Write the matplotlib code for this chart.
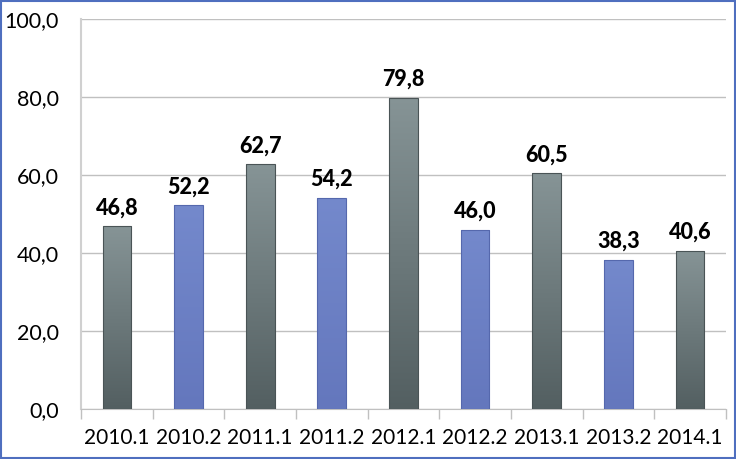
import numpy as np
import matplotlib
matplotlib.use("Agg")
import matplotlib.pyplot as plt
from matplotlib.patches import Rectangle

periods = ["2010.1", "2010.2", "2011.1", "2011.2", "2012.1",
           "2012.2", "2013.1", "2013.2", "2014.1"]
values = [46.8, 52.2, 62.7, 54.2, 79.8, 46.0, 60.5, 38.3, 40.6]
kinds = ["gray", "blue", "gray", "blue", "gray", "blue", "gray", "blue", "gray"]

palette = {
    "gray": ("#869496", "#535f61", "#4a5456"),
    "blue": ("#7489cc", "#6477bd", "#5568ad"),
}

plt.rcParams["font.family"] = ["Lato", "DejaVu Sans"]

fig = plt.figure(figsize=(7.36, 4.59), dpi=100)
ax = fig.add_axes([81 / 736, 50 / 459, 645 / 736, 390 / 459])

x = np.arange(len(periods))
width = 0.4
bars = ax.bar(x, values, width=width, color="none", edgecolor="none", zorder=3)

grad = np.linspace(0, 1, 256).reshape(-1, 1)
for b, k in zip(bars, kinds):
    top, bottom, edge = palette[k]
    cmap = matplotlib.colors.LinearSegmentedColormap.from_list(k, [bottom, top])
    x0, y0 = b.get_x(), b.get_y()
    w, h = b.get_width(), b.get_height()
    im = ax.imshow(grad, extent=[x0, x0 + w, y0, y0 + h], origin="lower",
                   cmap=cmap, aspect="auto", zorder=3)
    rect = Rectangle((x0, y0), w, h, facecolor="none", edgecolor=edge,
                     linewidth=0.8, zorder=4)
    ax.add_patch(rect)
    im.set_clip_path(rect)

for xi, v in zip(x, values):
    ax.text(xi, v + 2.0, f"{v:.1f}".replace(".", ","), ha="center", va="bottom",
            fontsize=15.5, fontweight="black", color="black", zorder=5)

ax.set_xlim(-0.5, len(periods) - 0.5)
ax.set_ylim(0, 100)
ax.set_yticks(np.arange(0, 101, 20))
ax.set_yticklabels([f"{t:.1f}".replace(".", ",") for t in np.arange(0, 101, 20)])
ax.yaxis.grid(True, color="#c0c0c0", linewidth=1)
ax.set_axisbelow(True)

ax.set_xticks(x)
ax.set_xticklabels(periods)
ax.set_xticks(np.arange(-0.5, len(periods)), minor=True)
ax.tick_params(axis="x", which="major", length=0, pad=14, labelsize=15)
ax.tick_params(axis="x", which="minor", length=7, color="#c0c0c0", width=1)
ax.tick_params(axis="y", length=0, pad=16, labelsize=15.5)

for s in ["top", "right"]:
    ax.spines[s].set_visible(False)
ax.spines["left"].set_color("#d0d0d0")
ax.spines["left"].set_linewidth(1.5)
ax.spines["bottom"].set_color("#c0c0c0")

border = Rectangle((0.001, 0.002), 0.997, 0.995, transform=fig.transFigure,
                   facecolor="none", edgecolor="#4f6fbf", linewidth=1.5)
fig.patches.append(border)

fig.savefig("out.png", dpi=100)
